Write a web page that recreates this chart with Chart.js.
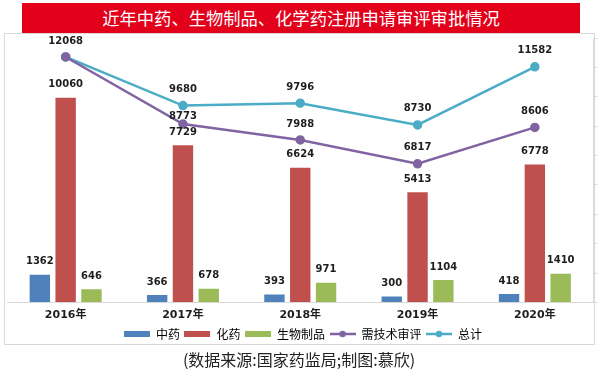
<!DOCTYPE html>
<html>
<head>
<meta charset="utf-8">
<script src="https://cdn.jsdelivr.net/npm/chart.js@4/dist/chart.umd.min.js"></script>
<style>
  body { margin: 0; width: 600px; height: 369px; background: #fff; position: relative; overflow: hidden; }
  #title {
    position: absolute; left: 22px; top: 3px; width: 558px; height: 30px;
    background: #e2001a; color: #fff; text-align: center;
    font: 17.3px/30px "Noto Sans CJK SC", sans-serif;
  }
  #frame {
    position: absolute; left: 4px; top: 33px; width: 591px; height: 312px;
    box-sizing: border-box; border: 1px solid #d9d9d9;
  }
  #wrap { position: absolute; left: 0; top: 0; width: 600px; height: 354px; }
  #source {
    position: absolute; left: 0; top: 349px; width: 598px; text-align: center;
    font: 16px/20px "Noto Sans CJK SC", sans-serif; color: #222;
  }
</style>
</head>
<body>
<div id="title">近年中药、生物制品、化学药注册申请审评审批情况</div>
<div id="frame"></div>
<div id="wrap"><canvas id="graph" width="600" height="354"></canvas></div>
<div id="source">(数据来源:国家药监局;制图:慕欣)</div>
<script>
// 年份
const LABELS = ['2016年', '2017年', '2018年', '2019年', '2020年'];

// 柱状数据
const zhongyao = [1362, 366, 393, 300, 418];
const huayao = [10060, 7729, 6624, 5413, 6778];
const shengwu = [646, 678, 971, 1104, 1410];

// 折线数据
const jishuShenping = [12068, 8773, 7988, 6817, 8606];
const zongji = [12068, 9680, 9796, 8730, 11582];

// 颜色
const BLUE = '#4f81bd';
const RED = '#c0504d';
const GREEN = '#9bbb59';
const PURPLE = '#8064a2';
const CYAN = '#4bacc6';

// 图例用小图
function barSwatch(color) {
  const c = document.createElement('canvas');
  c.width = 26; c.height = 6;
  const g = c.getContext('2d');
  g.fillStyle = color;
  g.fillRect(0, 0, 26, 6);
  return c;
}
function lineSwatch(color) {
  const c = document.createElement('canvas');
  c.width = 26; c.height = 8;
  const g = c.getContext('2d');
  g.strokeStyle = color;
  g.lineWidth = 2.5;
  g.beginPath(); g.moveTo(0, 4); g.lineTo(26, 4); g.stroke();
  g.fillStyle = color;
  g.beginPath(); g.arc(13, 4, 3.2, 0, Math.PI * 2); g.fill();
  return c;
}

// 数值标签
const valueLabels = {
  id: 'valueLabels',
  afterDatasetsDraw(chart) {
    const ctx = chart.ctx;
    ctx.save();
    ctx.font = 'bold 10px "DejaVu Sans"';
    ctx.fillStyle = '#1e1e1e';
    ctx.textAlign = 'center';
    ctx.textBaseline = 'middle';
    const totalMeta = chart.getDatasetMeta(4);
    chart.data.datasets.forEach((ds, i) => {
      const meta = chart.getDatasetMeta(i);
      meta.data.forEach((el, j) => {
        let dy = ds.type === 'line' ? 16 : 13;
        if (i === 3) {
          // 和总计重合时不重复标注
          if (ds.data[j] === zongji[j]) return;
          const gap = el.y - totalMeta.data[j].y;
          if (gap < 25) dy = 8;
        }
        ctx.fillText(String(ds.data[j]), el.x, el.y - dy);
      });
    });
    ctx.restore();
  }
};

const depositGraph = new Chart(document.getElementById('graph'), {
  type: 'bar',
  data: {
    labels: LABELS,
    datasets: [
      { label: '中药', data: zhongyao, backgroundColor: BLUE, order: 1 },
      { label: '化药', data: huayao, backgroundColor: RED, order: 1 },
      { label: '生物制品', data: shengwu, backgroundColor: GREEN, order: 1 },
      {
        label: '需技术审评', type: 'line', data: jishuShenping,
        borderColor: PURPLE, backgroundColor: PURPLE, borderWidth: 2.5,
        pointRadius: 3.5, pointBackgroundColor: PURPLE, fill: false, tension: 0, order: 0
      },
      {
        label: '总计', type: 'line', data: zongji,
        borderColor: CYAN, backgroundColor: CYAN, borderWidth: 2.5,
        pointRadius: 3.5, pointBackgroundColor: CYAN, fill: false, tension: 0, order: 0
      }
    ]
  },
  options: {
    responsive: false,
    animation: false,
    layout: { padding: { left: 7, right: 1, top: 38, bottom: 4 } },
    datasets: {
      bar: { categoryPercentage: 0.66, barPercentage: 0.79 }
    },
    scales: {
      x: {
        grid: { display: false, drawTicks: false },
        border: { display: true, color: '#d9d9d9' },
        ticks: { padding: 6, color: '#1e1e1e', font: { family: '"DejaVu Sans", "Noto Sans CJK SC"', size: 11, weight: 'bold' } },
        afterFit(scale) { scale.height = 21; }
      },
      y: {
        position: 'right',
        min: 0, max: 13000,
        grid: { drawOnChartArea: false, drawTicks: true, tickLength: 4, color: '#d9d9d9' },
        border: { display: true, color: '#d9d9d9' },
        ticks: { display: false, stepSize: 1500 }
      }
    },
    plugins: {
      tooltip: { enabled: false },
      legend: {
        position: 'bottom',
        labels: {
          usePointStyle: true,
          pointStyleWidth: 26,
          padding: 4.5,
          color: '#333',
          font: { family: '"Noto Sans CJK SC"', size: 12 },
          generateLabels(chart) {
            return chart.data.datasets.map((ds, i) => ({
              text: ds.label,
              pointStyle: ds.type === 'line' ? lineSwatch(ds.borderColor) : barSwatch(ds.backgroundColor),
              fillStyle: ds.backgroundColor,
              strokeStyle: ds.backgroundColor,
              lineWidth: 0,
              hidden: false,
              datasetIndex: i
            }));
          }
        }
      }
    }
  },
  plugins: [valueLabels]
});
</script>
</body>
</html>
